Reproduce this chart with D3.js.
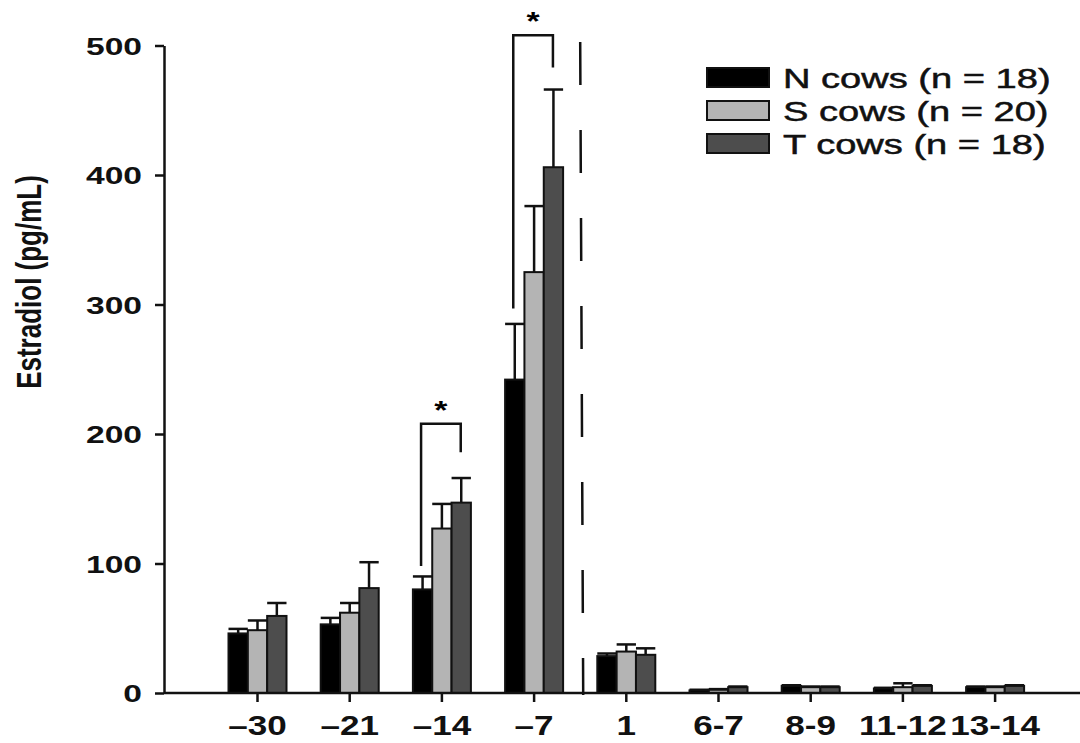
<!DOCTYPE html>
<html>
<head>
<meta charset="utf-8">
<script src="https://cdn.jsdelivr.net/npm/d3@7"></script>
<style>
  body { margin: 0; background: #fff; }
  svg { display: block; font-family: "Liberation Sans", Arial, sans-serif; }
</style>
</head>
<body>
<svg></svg>
<script>
// data
var days = ['\u201330', '\u201321', '\u201314', '\u20137', '1', '6-7', '8-9', '11-12', '13-14'];
var groups = ['N', 'S', 'T'];
var legendLabels = ['N cows (n = 18)', 'S cows (n = 20)', 'T cows (n = 18)'];
var nMean = [46, 53, 80, 242, 28.5, 2, 5.5, 3.5, 4.5];
var nErr  = [3.5, 5, 10, 43, 2, 0.5, 0.5, 0.5, 0.5];
var sMean = [48.5, 62, 127, 325, 32, 2.5, 4.5, 4.5, 4.5];
var sErr  = [7.5, 7.5, 19, 51, 5.5, 0.5, 0.5, 3, 0.5];
var tMean = [59.5, 81, 147, 406, 29.5, 4.5, 4.5, 5.5, 5.5];
var tErr  = [10, 20, 19, 60, 5, 0.5, 0.5, 0.5, 0.5];
var yTicks = [0, 100, 200, 300, 400, 500];
// significance brackets: [day, from group, to group, left foot, right foot, top]
var brackets = [
  ['\u201314', 'N', 'T', 98, 186, 208],
  ['\u20137', 'N', 'T', 297, 483, 508]
];

var width = 1080, height = 743;
var svg = d3.select('svg').attr('width', width).attr('height', height);

var fills = { N: '#000000', S: '#b4b4b4', T: '#4d4d4d' };
var series = { N: [nMean, nErr], S: [sMean, sErr], T: [tMean, tErr] };

var rows = [];
days.forEach(function(d, i) {
  groups.forEach(function(g) {
    rows.push({ day: d, group: g, mean: series[g][0][i], err: series[g][1][i] });
  });
});

var xScale = d3.scaleBand().domain(days).range([211.4, 1041.2]);
var inner = d3.scaleBand().domain(groups).range([0, 58]);
var yScale = d3.scaleLinear().domain([0, 500]).range([693, 45.5]);

function barX(d) { return xScale(d.day) + xScale.bandwidth() / 2 - 29 + inner(d.group); }
function barMid(day, g) { return xScale(day) + xScale.bandwidth() / 2 - 29 + inner(g) + inner.bandwidth() / 2; }

// error bars (drawn first so bars cover the lower part)
var eb = svg.append('g').attr('stroke', '#111').attr('stroke-width', 2.5);
eb.selectAll('line.v').data(rows).enter().append('line')
  .attr('x1', d => barMid(d.day, d.group)).attr('x2', d => barMid(d.day, d.group))
  .attr('y1', d => yScale(d.mean)).attr('y2', d => yScale(d.mean + d.err));
eb.selectAll('line.c').data(rows).enter().append('line')
  .attr('x1', d => barX(d)).attr('x2', d => barX(d) + inner.bandwidth())
  .attr('y1', d => yScale(d.mean + d.err)).attr('y2', d => yScale(d.mean + d.err));

// bars
svg.append('g').selectAll('rect').data(rows).enter().append('rect')
  .attr('x', d => barX(d))
  .attr('y', d => yScale(d.mean))
  .attr('width', inner.bandwidth())
  .attr('height', d => yScale(0) - yScale(d.mean))
  .attr('fill', d => fills[d.group])
  .attr('stroke', '#111')
  .attr('stroke-width', 2);

// brackets with stars
brackets.forEach(function(b) {
  var xl = barMid(b[0], b[1]) - 1.5, xr = barMid(b[0], b[2]) - 0.5;
  svg.append('path')
    .attr('d', 'M' + xl + ',' + yScale(b[3]) + 'V' + yScale(b[5]) + 'H' + xr + 'V' + yScale(b[4]))
    .attr('fill', 'none').attr('stroke', '#111').attr('stroke-width', 2.5);
  svg.append('text')
    .attr('transform', 'translate(' + ((xl + xr) / 2) + ',' + (yScale(b[5]) - 5) + ') scale(1.3,1)')
    .attr('text-anchor', 'middle')
    .attr('font-size', 26).attr('font-weight', 'bold')
    .text('*');
});

// dashed separator between -7 and 1
var sepX = (barMid('\u20137', 'T') + barMid('1', 'N')) / 2;
svg.append('line')
  .attr('x1', sepX).attr('x2', sepX + 3)
  .attr('y1', 42).attr('y2', 695)
  .attr('stroke', '#111').attr('stroke-width', 2.5)
  .attr('stroke-dasharray', '43,45');

// y-axis
var yAxis = svg.append('g')
  .attr('transform', 'translate(164,0)')
  .call(d3.axisLeft(yScale).tickValues(yTicks).tickSize(9).tickSizeOuter(0));
yAxis.select('.domain').attr('stroke', '#111').attr('stroke-width', 2.5);
yAxis.selectAll('.tick line').attr('stroke', '#111').attr('stroke-width', 2.5);
yAxis.selectAll('.tick text')
  .attr('x', null)
  .attr('transform', 'translate(-22,0) scale(1.4,1)')
  .attr('dy', '0.36em')
  .attr('fill', '#111')
  .attr('font-size', 24).attr('font-weight', 'bold')
  .attr('font-family', '"Liberation Sans", Arial, sans-serif');

// x-axis
var xAxis = svg.append('g')
  .attr('transform', 'translate(0,693)')
  .call(d3.axisBottom(xScale).tickSize(9).tickSizeOuter(0));
xAxis.select('.domain').remove();
xAxis.append('line').attr('x1', 164).attr('x2', 1080).attr('y1', 0).attr('y2', 0)
  .attr('stroke', '#111').attr('stroke-width', 2.5);
xAxis.selectAll('.tick line').attr('stroke', '#111').attr('stroke-width', 2.5);
xAxis.selectAll('.tick text')
  .attr('y', null).attr('dy', null)
  .attr('transform', 'translate(0,42) scale(1.3,1)')
  .attr('fill', '#111')
  .attr('font-size', 27).attr('font-weight', 'bold')
  .attr('font-family', '"Liberation Sans", Arial, sans-serif');

// y-axis title
svg.append('text')
  .attr('transform', 'translate(41,282) rotate(-90) scale(1,1.35)')
  .attr('text-anchor', 'middle')
  .attr('font-size', 26).attr('font-weight', 'bold')
  .attr('fill', '#111')
  .text('Estradiol (pg/mL)');

// legend
var legend = svg.append('g').selectAll('g').data(groups).enter().append('g')
  .attr('transform', (d, i) => 'translate(707,' + (68 + i * 33) + ')');
legend.append('rect')
  .attr('width', 62).attr('height', 19)
  .attr('fill', d => fills[d]).attr('stroke', '#111').attr('stroke-width', 2);
legend.append('text')
  .attr('transform', 'translate(76,19.5) scale(1.36,1)')
  .attr('font-size', 28)
  .attr('fill', '#111')
  .attr('stroke', '#111').attr('stroke-width', 0.5)
  .text((d, i) => legendLabels[i]);
</script>
</body>
</html>
